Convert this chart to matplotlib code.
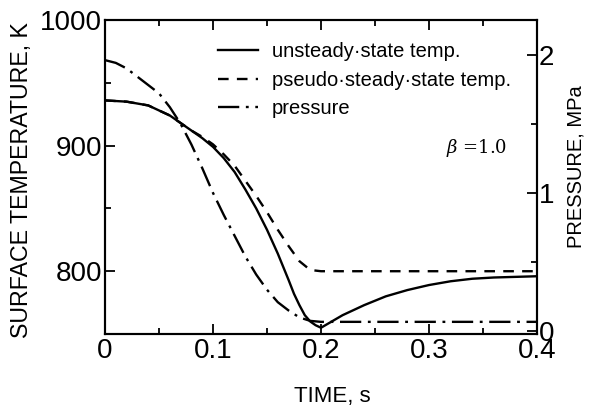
import matplotlib
matplotlib.use('Agg')
import matplotlib.pyplot as plt
from matplotlib.ticker import MultipleLocator

t_unsteady = [0, 0.02, 0.04, 0.06, 0.07, 0.08, 0.09, 0.10, 0.11, 0.12, 0.13, 0.14,
              0.15, 0.16, 0.17, 0.175, 0.18, 0.185, 0.19, 0.195, 0.20, 0.21, 0.22,
              0.24, 0.26, 0.28, 0.30, 0.32, 0.34, 0.36, 0.38, 0.40]
T_unsteady = [936, 935, 932, 924, 918, 912, 906, 899, 890, 879, 865, 850,
              833, 814, 793, 782, 773, 765, 760, 757, 755, 760, 765,
              773, 780, 785, 789, 792, 794, 795, 795.5, 796]

t_pseudo = [0, 0.02, 0.04, 0.06, 0.07, 0.08, 0.09, 0.10, 0.11, 0.12, 0.13, 0.14,
            0.15, 0.16, 0.17, 0.18, 0.19, 0.20, 0.30, 0.40]
T_pseudo = [936, 935, 932, 924, 918, 912, 907, 901, 893, 884, 872, 860,
            847, 833, 820, 808, 801, 800, 800, 800]

t_press = [0, 0.01, 0.02, 0.03, 0.04, 0.05, 0.06, 0.07, 0.08, 0.09, 0.10, 0.11,
           0.12, 0.13, 0.14, 0.15, 0.16, 0.17, 0.18, 0.19, 0.20, 0.30, 0.40]
P_press = [1.96, 1.94, 1.90, 1.84, 1.78, 1.72, 1.62, 1.50, 1.35, 1.18, 1.00, 0.84,
           0.69, 0.54, 0.41, 0.30, 0.21, 0.15, 0.10, 0.075, 0.068, 0.068, 0.068]

labels = ['unsteady·state temp.', 'pseudo·steady·state temp.', 'pressure']

plt.rcParams['font.family'] = ['Liberation Sans', 'DejaVu Sans']

fig = plt.figure(figsize=(5.95, 4.11), dpi=100)
ax = fig.add_axes([0.1765, 0.1873, 0.726, 0.764])
ax2 = ax.twinx()

l1, = ax.plot(t_unsteady, T_unsteady, color='black', lw=1.7, ls='-')
l2, = ax.plot(t_pseudo, T_pseudo, color='black', lw=1.7, ls=(0, (4.5, 3.5)))
l3, = ax2.plot(t_press, P_press, color='black', lw=1.7, ls=(0, (9, 2.8, 1.2, 2.8)))

ax.set_xlim(0, 0.4)
ax.set_ylim(750, 1000)
ax2.set_ylim(-0.02, 2.25)

ax.xaxis.set_minor_locator(MultipleLocator(0.05))
ax.yaxis.set_minor_locator(MultipleLocator(50))
ax2.yaxis.set_minor_locator(MultipleLocator(0.5))
ax.set_xticks([0, 0.1, 0.2, 0.3, 0.4])
ax.set_xticklabels(['0', '0.1', '0.2', '0.3', '0.4'])
ax.set_yticks([800, 900, 1000])
ax2.set_yticks([0, 1, 2])
ax2.set_yticklabels(['0', '1', '2'])

ax.tick_params(which='both', direction='in', top=True, labelsize=20, width=1.3)
ax.tick_params(which='major', length=7)
ax.tick_params(which='minor', length=4)
ax.tick_params(axis='x', pad=3)
ax.tick_params(axis='y', pad=2)
ax2.tick_params(which='both', direction='in', labelsize=20, width=1.3, pad=1)
ax2.tick_params(which='major', length=7)
ax2.tick_params(which='minor', length=4)
for a in (ax, ax2):
    for s in a.spines.values():
        s.set_linewidth(1.5)

ax.set_xlabel('TIME, s', fontsize=16)
ax.xaxis.set_label_coords(0.527, -0.165)
ax.set_ylabel('SURFACE TEMPERATURE, K', fontsize=16.7)
ax.yaxis.set_label_coords(-0.167, 0.49)
ax2.set_ylabel('PRESSURE, MPa', fontsize=14.5)
ax2.yaxis.set_label_coords(1.069, 0.532)

leg = ax.legend([l1, l2, l3], labels,
                loc='center left', bbox_to_anchor=(0.262, 0.808), frameon=False,
                fontsize=14.5, handlelength=1.98, handletextpad=0.69,
                labelspacing=0.47, borderpad=0, borderaxespad=0)

ax.text(0.79, (334 - 148) / 314, r'$\beta$ =1.0', transform=ax.transAxes, fontsize=13,
        family='DejaVu Serif', math_fontfamily='dejavuserif', ha='left', va='center')

fig.savefig('out.png', dpi=100)
